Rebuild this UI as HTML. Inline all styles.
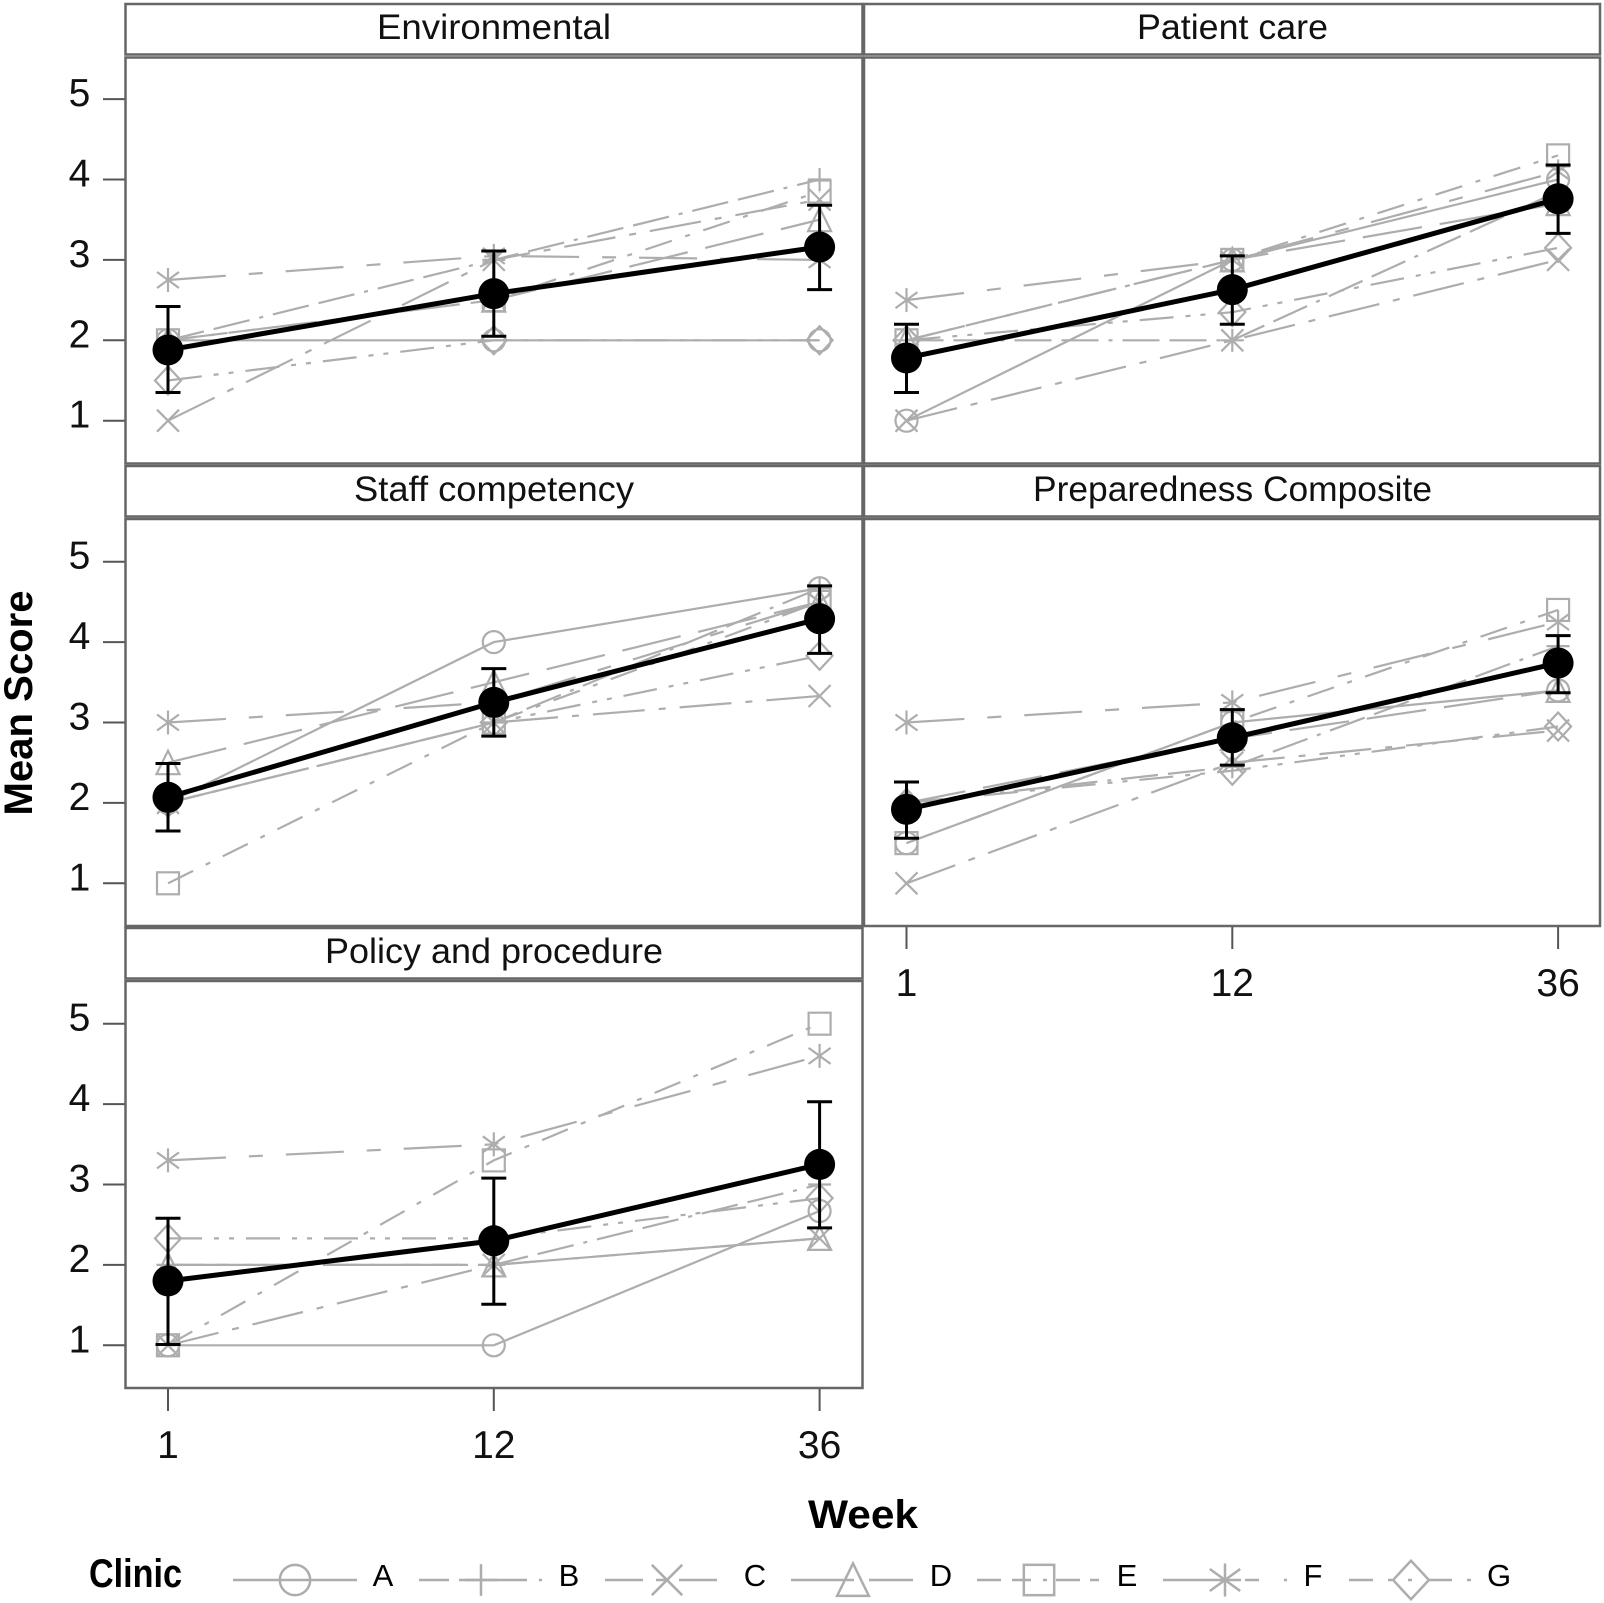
<!DOCTYPE html>
<html lang="en">
<head>
<meta charset="utf-8">
<title>Mean Score by Week and Clinic</title>
<style>
html,body{margin:0;padding:0;background:#fff;}
svg{display:block;}
text{font-family:"Liberation Sans",sans-serif;fill:#000;}
.title{font-size:35px;text-anchor:middle;fill:#111;}
.tick{font-size:39px;text-anchor:middle;fill:#111;}
.axis-title{font-size:40px;font-weight:bold;text-anchor:middle;}
</style>
</head>
<body>
<svg id="chart" xmlns="http://www.w3.org/2000/svg" width="1604" height="1603" viewBox="0 0 1604 1603">
  <rect x="0" y="0" width="1604" height="1603" fill="#fff"/>
  <g id="frames">
    <rect x="125.5" y="4" width="737" height="50.5" fill="none" stroke="#666" stroke-width="2.5"/>
    <rect x="864" y="4" width="736" height="50.5" fill="none" stroke="#666" stroke-width="2.5"/>
    <rect x="125.5" y="466" width="737" height="50.5" fill="none" stroke="#666" stroke-width="2.5"/>
    <rect x="864" y="466" width="736" height="50.5" fill="none" stroke="#666" stroke-width="2.5"/>
    <rect x="125.5" y="928" width="737" height="50.5" fill="none" stroke="#666" stroke-width="2.5"/>
    <rect x="125.5" y="57.5" width="737" height="406" fill="none" stroke="#666" stroke-width="2.5"/>
    <rect x="864" y="57.5" width="736" height="406" fill="none" stroke="#666" stroke-width="2.5"/>
    <rect x="125.5" y="519" width="737" height="407" fill="none" stroke="#666" stroke-width="2.5"/>
    <rect x="864" y="519" width="736" height="407" fill="none" stroke="#666" stroke-width="2.5"/>
    <rect x="125.5" y="981" width="737" height="407" fill="none" stroke="#666" stroke-width="2.5"/>
  </g>
  <text class="title" x="494" y="39" textLength="234" lengthAdjust="spacingAndGlyphs">Environmental</text>
  <text class="title" x="1232.5" y="39" textLength="191" lengthAdjust="spacingAndGlyphs">Patient care</text>
  <text class="title" x="494" y="501" textLength="280" lengthAdjust="spacingAndGlyphs">Staff competency</text>
  <text class="title" x="1232.5" y="501" textLength="399" lengthAdjust="spacingAndGlyphs">Preparedness Composite</text>
  <text class="title" x="494" y="963" textLength="338" lengthAdjust="spacingAndGlyphs">Policy and procedure</text>
  <text class="axis-title" transform="translate(32,703) rotate(-90)" textLength="225" lengthAdjust="spacingAndGlyphs">Mean Score</text>
  <text class="axis-title" x="863" y="1528" textLength="110" lengthAdjust="spacingAndGlyphs">Week</text>
  <text class="axis-title" x="135.5" y="1587" textLength="93" lengthAdjust="spacingAndGlyphs">Clinic</text>
  <g id="axes"></g>
  <g id="marks"></g>
  <g id="legend"></g>
</svg>
<script>
// ---- chart data ----
const weekLabels = ["1", "12", "36"];
const yTickValues = [1, 2, 3, 4, 5];
const clinicNames = ["A", "B", "C", "D", "E", "F", "G"];

const envA = [2, 2, 2];
const envB = [2, 3, 4];
const envC = [1, 3, 3.75];
const envD = [2, 2.5, 3.5];
const envE = [2, 2.5, 3.85];
const envF = [2.75, 3.05, 3];
const envG = [1.5, 2, 2];
const envMean = [1.88, 2.58, 3.16];
const envLow = [1.35, 2.05, 2.63];
const envHigh = [2.42, 3.11, 3.68];

const careA = [1, 3, 4];
const careB = [2, 2, 3.85];
const careC = [1, 2, 3];
const careD = [2, 3, 3.7];
const careE = [2, 3, 4.3];
const careF = [2.5, 3, 4.1];
const careG = [2, 2.35, 3.15];
const careMean = [1.78, 2.63, 3.76];
const careLow = [1.35, 2.2, 3.33];
const careHigh = [2.2, 3.05, 4.18];

const staffA = [2, 4, 4.67];
const staffB = [2, 3, 4.67];
const staffC = [2, 3, 3.33];
const staffD = [2.5, 3.5, 4.5];
const staffE = [1, 3, 4.5];
const staffF = [3, 3.25, 4.5];
const staffG = [2, 3, 3.83];
const staffMean = [2.07, 3.25, 4.29];
const staffLow = [1.65, 2.83, 3.86];
const staffHigh = [2.49, 3.67, 4.7];

const prepA = [1.5, 3, 3.4];
const prepB = [2, 2.45, 3.95];
const prepC = [1, 2.5, 2.9];
const prepD = [2, 2.8, 3.4];
const prepE = [1.5, 3, 4.4];
const prepF = [3, 3.25, 4.25];
const prepG = [2, 2.4, 2.95];
const prepMean = [1.92, 2.81, 3.74];
const prepLow = [1.56, 2.47, 3.37];
const prepHigh = [2.26, 3.16, 4.08];

const policyA = [1, 1, 2.67];
const policyB = [2, 2, 3];
const policyC = [1, 2, 2.33];
const policyD = [2, 2, 2.33];
const policyE = [1, 3.3, 5];
const policyF = [3.3, 3.5, 4.6];
const policyG = [2.33, 2.33, 2.83];
const policyMean = [1.8, 2.3, 3.25];
const policyLow = [1.01, 1.51, 2.46];
const policyHigh = [2.58, 3.08, 4.03];

const panelKeys = ["environmental", "patient-care", "staff-competency", "preparedness-composite", "policy-and-procedure"];
const panelSeries = [
  [envA, envB, envC, envD, envE, envF, envG],
  [careA, careB, careC, careD, careE, careF, careG],
  [staffA, staffB, staffC, staffD, staffE, staffF, staffG],
  [prepA, prepB, prepC, prepD, prepE, prepF, prepG],
  [policyA, policyB, policyC, policyD, policyE, policyF, policyG]
];
const panelMeans = [envMean, careMean, staffMean, prepMean, policyMean];
const panelLows = [envLow, careLow, staffLow, prepLow, policyLow];
const panelHighs = [envHigh, careHigh, staffHigh, prepHigh, policyHigh];

// ---- layout and axis functions ----
const NS = "http://www.w3.org/2000/svg";
const GREY = "#adadad";
const DASHES = ["", "37 10 37 10 4 10", "52 14 7 14", "60 18", "28 14 5 14", "58 23 14 23", "34 12 5 10 5 12"];
const LEGEND_DASHES = ["", "30 10 68 12 3 99", "38 13 10 13 38", "63 15 44", "24 11 19 12 4 9 24 10 9", "78 4 14 25 3 99", "24 15 4 16 4 16 24 15 4"];
const colLeft = [168, 906.5];
const colStep = 325.8;
const rowBase = [420.7, 883.3, 1345.3];
const unitY = 80.4;
function panelCol(p) { return p % 2; }
function panelRow(p) { return Math.floor(p / 2); }
function xScale(p, i) { return colLeft[panelCol(p)] + i * colStep; }
function yScale(p, v) { return rowBase[panelRow(p)] - (v - 1) * unitY; }

function make(parent, tag, attrs, text) {
  const el = document.createElementNS(NS, tag);
  for (const k in attrs) el.setAttribute(k, attrs[k]);
  if (text !== undefined) el.textContent = text;
  parent.appendChild(el);
  return el;
}

function drawMarker(parent, type, cx, cy, s, sw, name) {
  const g = make(parent, "g", { fill: "none", stroke: GREY, "stroke-width": sw });
  
  
  const seg = function (x1, y1, x2, y2) {
    make(g, "line", { x1: cx + x1 * s, y1: cy + y1 * s, x2: cx + x2 * s, y2: cy + y2 * s });
  };
  if (type === "A") {
    make(g, "circle", { cx: cx, cy: cy, r: 11 * s });
  } else if (type === "B") {
    seg(-11.5, 0, 11.5, 0); seg(0, -11.5, 0, 11.5);
  } else if (type === "C") {
    seg(-11, -11, 11, 11); seg(-11, 11, 11, -11);
  } else if (type === "D") {
    make(g, "polygon", { points: [cx, cy - 12 * s, cx + 11.5 * s, cy + 11.5 * s, cx - 11.5 * s, cy + 11.5 * s].join(",") });
  } else if (type === "E") {
    make(g, "rect", { x: cx - 11 * s, y: cy - 11 * s, width: 22 * s, height: 22 * s });
  } else if (type === "F") {
    seg(-11, -8, 11, 8); seg(-11, 8, 11, -8); seg(0, -12, 0, 12);
  } else {
    make(g, "polygon", { points: [cx, cy - 14 * s, cx + 13 * s, cy, cx, cy + 14 * s, cx - 13 * s, cy].join(",") });
  }
}

// ---- axes ----
const axes = document.getElementById("axes");
[0, 2, 4].forEach(function (p) {
  yTickValues.forEach(function (v) {
    const y = yScale(p, v);
    const t = make(axes, "line", { x1: 103, x2: 124.5, y1: y, y2: y, stroke: "#555", "stroke-width": 2 });
    
    
    const l = make(axes, "text", { class: "tick", x: 79.5, y: y + 7 }, String(v));
    
    
  });
});
[3, 4].forEach(function (p) {
  const bottom = p === 3 ? 926 : 1388;
  weekLabels.forEach(function (w, i) {
    const x = xScale(p, i);
    const t = make(axes, "line", { x1: x, x2: x, y1: bottom + 1, y2: bottom + 23, stroke: "#555", "stroke-width": 2 });
    
    
    const l = make(axes, "text", { class: "tick", x: x, y: bottom + 70 }, w);
    
    
  });
});

// ---- series ----
const marks = document.getElementById("marks");
panelSeries.forEach(function (seriesList, p) {
  const group = make(marks, "g", {});
  
  
  seriesList.forEach(function (values, c) {
    const pts = values.map(function (v, i) { return xScale(p, i) + "," + yScale(p, v); }).join(" ");
    const line = make(group, "polyline", { points: pts, fill: "none", stroke: GREY, "stroke-width": 2.2 });
    if (DASHES[c]) line.setAttribute("stroke-dasharray", DASHES[c]);
    
    
    values.forEach(function (v, i) {
      drawMarker(group, clinicNames[c], xScale(p, i), yScale(p, v), 1, 2.2, 'marker-clinic-' + clinicNames[c] + '-week-' + weekLabels[i]);
    });
  });
  const mean = panelMeans[p];
  const low = panelLows[p];
  const high = panelHighs[p];
  mean.forEach(function (v, i) {
    const x = xScale(p, i);
    const bar = make(group, "path", {
      d: "M" + (x - 12.5) + " " + yScale(p, high[i]) + "H" + (x + 12.5) + "M" + x + " " + yScale(p, high[i]) + "V" + yScale(p, low[i]) + "M" + (x - 12.5) + " " + yScale(p, low[i]) + "H" + (x + 12.5),
      fill: "none", stroke: "#000", "stroke-width": 3
    });
    
    
  });
  const meanLine = make(group, "polyline", {
    points: mean.map(function (v, i) { return xScale(p, i) + "," + yScale(p, v); }).join(" "),
    fill: "none", stroke: "#000", "stroke-width": 5
  });
  
  
  mean.forEach(function (v, i) {
    const dot = make(group, "circle", { cx: xScale(p, i), cy: yScale(p, v), r: 15.5, fill: "#000" });
    
    
  });
});

// ---- legend ----
const legend = document.getElementById("legend");
clinicNames.forEach(function (name, c) {
  const x0 = 233 + c * 186;
  const entry = make(legend, "g", {});
  
  
  const line = make(entry, "line", { x1: x0, x2: x0 + 124, y1: 1580, y2: 1580, stroke: GREY, "stroke-width": 2.5 });
  if (LEGEND_DASHES[c]) line.setAttribute("stroke-dasharray", LEGEND_DASHES[c]);
  
  
  drawMarker(entry, name, x0 + 62, 1580, 1.38, 2.5, 'legend-marker-' + name);
  const label = make(entry, "text", { x: x0 + 150, y: 1586, "font-size": 31, "text-anchor": "middle", fill: "#111" }, name);
  
  
});
</script>
</body>
</html>
